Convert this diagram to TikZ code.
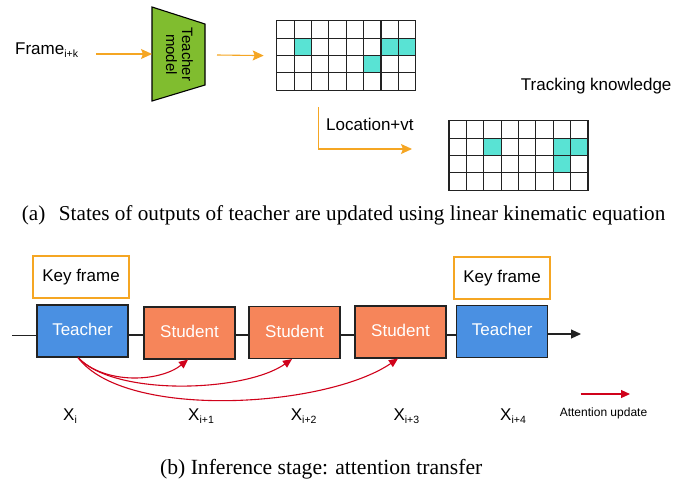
\documentclass[tikz,border=0pt]{standalone}
\usepackage{fontspec}
\setmainfont{Liberation Serif}
\setsansfont{Liberation Sans}
\usetikzlibrary{arrows.meta,calc}

\definecolor{modelgreen}{HTML}{80BD2F}
\definecolor{cellcyan}{HTML}{59E3D4}
\definecolor{teacherblue}{HTML}{4A90E2}
\definecolor{studentorange}{HTML}{F6855A}
\definecolor{flowamber}{HTML}{F5A623}
\definecolor{attnred}{HTML}{D0021B}
\definecolor{edge}{HTML}{222222}

\newcommand{\sz}[1]{\fontsize{#1}{#1}\selectfont}
\newcommand{\sub}[1]{\raisebox{-3.5pt}{\sz{10.5}#1}}

% 8x4 grid of cells; #1,#2 = top-left corner, #3 = list of filled col/row pairs
\newcommand{\knowgrid}[3]{%
  \begin{scope}[shift={(#1,#2)}]
    \foreach \c/\r in {#3}
      \fill[cellcyan] (\c*17.375,\r*17.35) rectangle ++(17.375,17.35);
    \foreach \i in {0,...,8}
      \draw[gridline] (\i*17.375,0) -- (\i*17.375,69.4);
    \foreach \j in {0,...,4}
      \draw[gridline] (0,\j*17.35) -- (139,\j*17.35);
  \end{scope}}

\tikzset{
  gridline/.style={draw=edge, line width=1.1pt, line cap=rect},
  label/.style={font=\sffamily\sz{17}, inner sep=0pt},
  flow/.style={draw=flowamber, line width=1.1pt,
    -{Stealth[length=11pt,width=10pt,inset=2pt]}},
  keybox/.style={draw=flowamber, line width=1.1pt, fill=white,
    minimum width=96pt, minimum height=42pt, inner sep=0pt,
    font=\sffamily\sz{17}},
  stagebox/.style={draw=edge, line width=1.2pt, minimum width=91pt,
    minimum height=52pt, inner sep=0pt, text=white, font=\sffamily\sz{17}},
  teacherbox/.style={stagebox, fill=teacherblue},
  studentbox/.style={stagebox, fill=studentorange},
  timeline/.style={draw=edge, line width=1.1pt},
  attn/.style={draw=attnred, line width=1.1pt,
    -{Triangle[length=9pt,width=8pt]}},
  caption/.style={inner sep=0pt, anchor=base west}
}

\begin{document}
\begin{tikzpicture}[x=1pt,y=-1pt]
\useasboundingbox[fill=white] (0,0) rectangle (700,485);

% ---------- (a) teacher output propagation ----------
\node[label, anchor=base west] (frame) at (15,54.3) {Frame\sub{i+k}};

\draw[draw=black, line width=1.1pt, fill=modelgreen]
  (152,7) -- (205,24) -- (205,85) -- (152,101) -- cycle;
\coordinate (tmin) at (152,54);
\coordinate (tmout) at (205,55);
\node[font=\sffamily\sz{15}, rotate=-90, align=center, inner sep=0pt] (tm)
  at (179.5,54.5) {Teacher\\[1pt]model};

\node[minimum width=139pt, minimum height=69.4pt, inner sep=0pt,
  anchor=north west] (g1) at (276.7,20.7) {};
\knowgrid{276.7}{20.7}{1/1, 6/1, 7/1, 5/2}

\node[minimum width=139pt, minimum height=69.4pt, inner sep=0pt,
  anchor=north west] (g2) at (449,120.7) {};
\knowgrid{449}{120.7}{2/1, 6/1, 7/1, 6/2}

\draw[flow] (frame.east |- tmin) ++(18,0) coordinate (fstart) -- (tmin);
\draw[flow] (tmout) ++(12,0) -- ($(g1.west)+(-13,0)$);

\coordinate (lstart) at (318.3,107);
\coordinate (lend) at (412,149);
\draw[flow] (lstart) |- (lend);
\node[label, anchor=base west] (loc) at (326,130) {Location+vt};

\node[label, anchor=base west] (tk) at (520.7,90) {Tracking knowledge};

\node[caption, font=\sz{21.2}] (capa) at (21.7,220)
  {(a)\hspace{13.5pt}States of outputs of teacher are updated using linear kinematic equation};

% ---------- (b) inference stage ----------
\coordinate (base) at (0,335);
\coordinate (lineorigin) at (12,335.5);

\node[keybox] (k1) at (81,277) {Key frame};
\node[keybox] (k2) at (502,278) {Key frame};

\node[teacherbox] (t1) at (82.5,331) {\raisebox{3pt}{Teacher}};
\node[studentbox] (s1) at (189.5,333) {\raisebox{3pt}{Student}};
\node[studentbox] (s2) at (294.5,332.5) {\raisebox{3pt}{Student}};
\node[studentbox] (s3) at (400.5,332) {\raisebox{3pt}{Student}};
\node[teacherbox] (t2) at (502.2,331.3) {\raisebox{3pt}{Teacher}};

\draw[timeline] (lineorigin) -- (t1.west |- lineorigin);
\draw[timeline] (t1.east |- base) -- (s1.west |- base);
\draw[timeline] (s1.east |- base) -- (s2.west |- base);
\draw[timeline] (s2.east |- base) -- (s3.west |- base);
\draw[timeline] (s3.east |- base) -- (t2.west |- base);
\coordinate (tend) at (581,334);
\draw[timeline, -{Triangle[length=10pt,width=9pt]}] (t2.east |- tend) -- (tend);

\coordinate (src) at ($(t1.south)+(-4.5,0)$);
\draw[attn] (src) .. controls (105,385) and (160,382) .. ($(s1.south)+(-1.5,0)$);
\draw[attn] (src) .. controls (115,397) and (245,392) .. ($(s2.south)+(-2.5,0)$);
\draw[attn] (src) .. controls (125,420) and (325,408) .. ($(s3.south)+(-2.5,0)$);

\node[label, anchor=base west] (x0) at (63,420) {X\sub{i}};
\node[label, anchor=base west] (x1) at (188,420) {X\sub{i+1}};
\node[label, anchor=base west] (x2) at (290.7,420) {X\sub{i+2}};
\node[label, anchor=base west] (x3) at (393.3,420) {X\sub{i+3}};
\node[label, anchor=base west] (x4) at (500,420) {X\sub{i+4}};

\coordinate (legstart) at (580.7,394);
\coordinate (legend) at (630,394);
\draw[attn] (legstart) -- (legend);
\node[font=\sffamily\sz{12}, inner sep=0pt] (legtext) at (603.5,413) {Attention update};

\node[caption, font=\sz{21.6}] (capb) at (160,474.5) {(b) Inference stage: attention transfer};
\end{tikzpicture}
\end{document}
